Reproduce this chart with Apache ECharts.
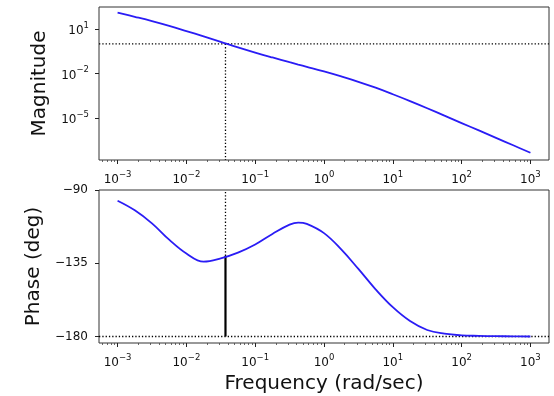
<!DOCTYPE html>
<html><head><meta charset="utf-8">
<script src="https://cdn.jsdelivr.net/npm/echarts@6/dist/echarts.min.js"></script>
<style>html,body{margin:0;padding:0;background:#fff}#c{width:554px;height:396px}</style>
</head><body><div id="c"></div>
<script>
// Frequency samples (rad/sec)
const freq = [1e-3, 1.78e-3, 3.16e-3, 5.62e-3, 1e-2, 1.78e-2, 3.16e-2, 5.62e-2, 1e-1, 1.78e-1, 3.16e-1, 4.22e-1, 5.62e-1, 1, 1.78, 3.16, 5.62, 10, 17.8, 31.6, 56.2, 100, 178, 316, 562, 1000];
// Magnitude (absolute)
const magnitude = [125.9, 66.1, 33.9, 16.2, 7.24, 3.16, 1.35, 0.575, 0.257, 0.120, 0.0575, 0.0400, 0.0282, 0.0138, 6.31e-3, 2.75e-3, 1.10e-3, 3.98e-4, 1.38e-4, 4.57e-5, 1.45e-5, 4.57e-6, 1.45e-6, 4.57e-7, 1.45e-7, 4.57e-8];
// Phase (deg)
const phase = [-96.6, -102.5, -110.5, -120.5, -129, -134, -132, -128.5, -123.5, -117, -111.3, -110, -110.8, -116.5, -126.5, -138.5, -151, -162, -170.5, -176, -178.3, -179.3, -179.6, -179.8, -179.9, -180];
// Gain crossover
const crossoverFreq = 0.037;
const crossoverPhase = -130.5;
const unityGain = 1;
const phaseRef = -180;
// Ticks
const xMajorTicks = [1e-3, 1e-2, 1e-1, 1, 10, 100, 1000];
const xMinorTicks = [6e-4,7e-4,8e-4,9e-4,
  2e-3,3e-3,4e-3,5e-3,6e-3,7e-3,8e-3,9e-3,
  2e-2,3e-2,4e-2,5e-2,6e-2,7e-2,8e-2,9e-2,
  2e-1,3e-1,4e-1,5e-1,6e-1,7e-1,8e-1,9e-1,
  2,3,4,5,6,7,8,9, 20,30,40,50,60,70,80,90,
  200,300,400,500,600,700,800,900];
const magTicks = [1e-5, 1e-2, 1e1];
const phaseTicks = [-180, -135, -90];

const xMin = Math.pow(10, -3.27), xMax = Math.pow(10, 3.27);
const magMin = Math.pow(10, -7.83), magMax = Math.pow(10, 2.48);
const phMin = -184, phMax = -90;

const FONT = 'DejaVu Sans';
const TXT = '#111';
function supFmt(v) {
  const e = Math.round(Math.log10(v));
  return '{b|10}{s|' + (e < 0 ? '\u2212' + (-e) : e) + '}';
}
const richSup = {
  b: {fontSize: 12, fontFamily: FONT, color: TXT, lineHeight: 16, verticalAlign: 'bottom'},
  s: {fontSize: 8.5, fontFamily: FONT, color: TXT, lineHeight: 16, verticalAlign: 'top'}
};
function xAxes(grid, name) {
  return [{
    type: 'log', logBase: 10, gridIndex: grid, min: xMin, max: xMax, position: 'bottom',
    axisLine: {show: false},
    axisTick: {show: true, inside: false, length: 4, lineStyle: {color: '#222', width: 1}, customValues: xMajorTicks},
    axisLabel: {customValues: xMajorTicks, formatter: supFmt, rich: richSup, margin: 10},
    splitLine: {show: false}, minorTick: {show: false},
    name: name || '', nameLocation: 'middle', nameGap: 31,
    nameTextStyle: {fontFamily: FONT, fontSize: 20, color: TXT}
  }, {
    type: 'log', logBase: 10, gridIndex: grid, min: xMin, max: xMax, position: 'bottom',
    axisLine: {show: false},
    axisTick: {show: true, inside: false, length: 2, lineStyle: {color: '#444', width: 0.8}, customValues: xMinorTicks},
    axisLabel: {show: false}, splitLine: {show: false}
  }];
}
const option = {
  animation: false,
  backgroundColor: '#fff',
  grid: [
    {left: 99, right: 5, top: 7, height: 153, show: true, borderColor: '#333', borderWidth: 1, backgroundColor: 'transparent'},
    {left: 99, right: 5, top: 190, height: 153, show: true, borderColor: '#333', borderWidth: 1, backgroundColor: 'transparent'}
  ],
  xAxis: [...xAxes(0), ...xAxes(1, 'Frequency (rad/sec)')],
  yAxis: [{
    type: 'log', logBase: 10, gridIndex: 0, min: magMin, max: magMax,
    axisLine: {show: false},
    axisTick: {show: true, inside: false, length: 4, lineStyle: {color: '#222', width: 1}, customValues: magTicks},
    axisLabel: {customValues: magTicks, formatter: supFmt, rich: richSup, margin: 10},
    splitLine: {show: false},
    name: 'Magnitude', nameLocation: 'middle', nameGap: 49, nameRotate: 90,
    nameTextStyle: {fontFamily: FONT, fontSize: 20, color: TXT}
  }, {
    type: 'value', gridIndex: 1, min: phMin, max: phMax,
    axisLine: {show: false},
    axisTick: {show: true, inside: false, length: 4, lineStyle: {color: '#222', width: 1}, customValues: phaseTicks},
    axisLabel: {customValues: phaseTicks, formatter: v => String(v).replace('-', '\u2212'), fontFamily: FONT, fontSize: 12, color: TXT, margin: 11},
    splitLine: {show: false},
    name: 'Phase (deg)', nameLocation: 'middle', nameGap: 55, nameRotate: 90,
    nameTextStyle: {fontFamily: FONT, fontSize: 20, color: TXT}
  }],
  series: [
    {type: 'line', xAxisIndex: 0, yAxisIndex: 0, data: freq.map((f, i) => [f, magnitude[i]]),
     showSymbol: false, smooth: 0.4, lineStyle: {color: '#2a1cf5', width: 1.8}, z: 3},
    {type: 'line', xAxisIndex: 0, yAxisIndex: 0, data: [[xMin, unityGain], [xMax, unityGain]],
     showSymbol: false, lineStyle: {color: '#000', width: 1.3, type: [1.3, 2]}, z: 2},
    {type: 'line', xAxisIndex: 0, yAxisIndex: 0, data: [[crossoverFreq, unityGain], [crossoverFreq, magMin]],
     showSymbol: false, lineStyle: {color: '#000', width: 1.3, type: [1.3, 2]}, z: 2},
    {type: 'line', xAxisIndex: 2, yAxisIndex: 1, data: freq.map((f, i) => [f, phase[i]]),
     showSymbol: false, smooth: 0.4, lineStyle: {color: '#2a1cf5', width: 1.8}, z: 3},
    {type: 'line', xAxisIndex: 2, yAxisIndex: 1, data: [[xMin, phaseRef], [xMax, phaseRef]],
     showSymbol: false, lineStyle: {color: '#000', width: 1.3, type: [1.3, 2]}, z: 2},
    {type: 'line', xAxisIndex: 2, yAxisIndex: 1, data: [[crossoverFreq, crossoverPhase], [crossoverFreq, phMax]],
     showSymbol: false, lineStyle: {color: '#000', width: 1.3, type: [1.3, 2]}, z: 2},
    {type: 'line', xAxisIndex: 2, yAxisIndex: 1, data: [[crossoverFreq, phaseRef], [crossoverFreq, crossoverPhase]],
     showSymbol: false, lineStyle: {color: '#000', width: 2.2}, z: 2}
  ]
};
const chart = echarts.init(document.getElementById('c'), null, {renderer: 'canvas'});
chart.setOption(option);
</script></body></html>
